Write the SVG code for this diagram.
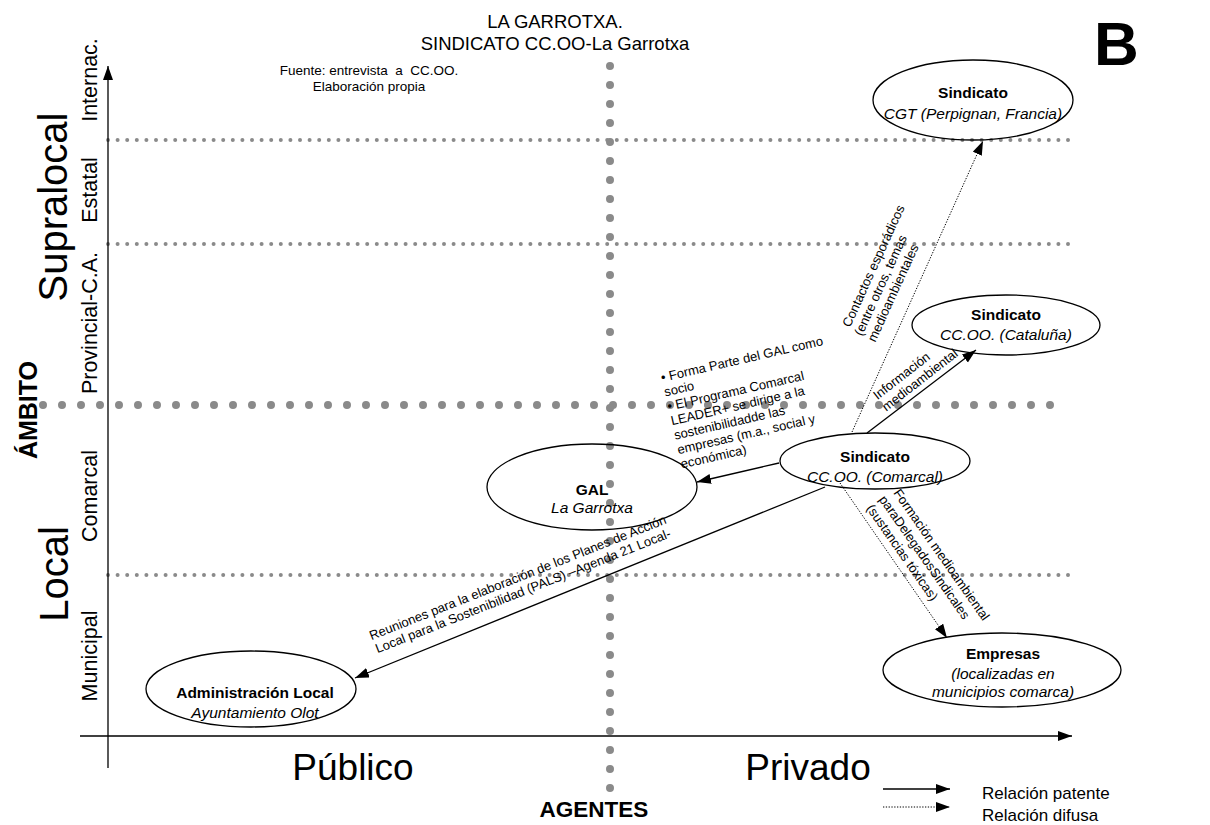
<svg xmlns="http://www.w3.org/2000/svg" width="1210" height="825" viewBox="0 0 1210 825">
<style>
text{font-family:"Liberation Sans",Arial,sans-serif;fill:#000}
.dotS{stroke:#8a8a8a;stroke-width:4;stroke-linecap:round;stroke-dasharray:0 9.6;fill:none}
.dotB{stroke:#8a8a8a;stroke-width:8;stroke-linecap:round;stroke-dasharray:0 19;fill:none}
.axis{stroke:#000;stroke-width:1.3;fill:none}
.node{fill:none;stroke:#000;stroke-width:1.3}
.nb{font-size:15.5px;font-weight:bold}
.ni{font-size:15.5px;font-style:italic}
.solid{stroke:#000;stroke-width:1.3;fill:none}
.dashed{stroke:#000;stroke-width:1;stroke-dasharray:1.3 1.5;fill:none}
.lab{font-size:13px}
.lvl{font-size:21.5px}
.big{font-size:40px}
</style>
<defs>
<marker id="ah" markerUnits="userSpaceOnUse" markerWidth="15" markerHeight="11" refX="14" refY="5" orient="auto"><path d="M0,0 L14,5 L0,10 z" fill="#000"/></marker>
</defs>

<g id="grid">
<line class="dotS" x1="108" y1="140" x2="1073" y2="140"/>
<line class="dotS" x1="108" y1="244" x2="1073" y2="244"/>
<line class="dotS" x1="108" y1="575" x2="1073" y2="575"/>
<line class="dotB" x1="43" y1="405" x2="1068" y2="405"/>
<line class="dotB" x1="610" y1="66" x2="610" y2="800"/>
</g>

<g id="axes">
<line class="axis" x1="108" y1="768" x2="108" y2="66" marker-end="url(#ah)"/>
<line class="axis" x1="80" y1="736" x2="1072" y2="736" marker-end="url(#ah)"/>
</g>

<g id="titles">
<text x="555" y="28" font-size="18.5" text-anchor="middle">LA GARROTXA.</text>
<text x="555" y="50" font-size="18.5" text-anchor="middle">SINDICATO CC.OO-La Garrotxa</text>
<text x="369" y="75" font-size="13.5" text-anchor="middle" xml:space="preserve">Fuente: entrevista  a  CC.OO.</text>
<text x="369" y="91" font-size="13.5" text-anchor="middle">Elaboración propia</text>
<text x="1094" y="65" font-size="62" font-weight="bold">B</text>
</g>

<g id="yaxis-labels">
<text class="big" transform="translate(67,207) rotate(-90)" text-anchor="middle">Supralocal</text>
<text class="big" transform="translate(68,574) rotate(-90)" text-anchor="middle">Local</text>
<text transform="translate(37,410) rotate(-90)" text-anchor="middle" font-size="25" font-weight="bold">ÁMBITO</text>
<text class="lvl" transform="translate(97,80) rotate(-90)" text-anchor="middle">Internac.</text>
<text class="lvl" transform="translate(97,190) rotate(-90)" text-anchor="middle">Estatal</text>
<text class="lvl" transform="translate(97,323) rotate(-90)" text-anchor="middle">Provincial-C.A.</text>
<text class="lvl" transform="translate(97,496) rotate(-90)" text-anchor="middle">Comarcal</text>
<text class="lvl" transform="translate(97,656) rotate(-90)" text-anchor="middle">Municipal</text>
</g>

<g id="xaxis-labels">
<text x="353" y="780" font-size="37" text-anchor="middle">Público</text>
<text x="808" y="780" font-size="37" text-anchor="middle">Privado</text>
<text x="594" y="817" font-size="22.5" font-weight="bold" text-anchor="middle">AGENTES</text>
</g>

<g id="legend">
<line class="solid" x1="883" y1="789" x2="950" y2="789" marker-end="url(#ah)"/>
<line class="dashed" x1="883" y1="807" x2="950" y2="807" marker-end="url(#ah)"/>
<text x="982" y="799" font-size="17">Relación patente</text>
<text x="982" y="821" font-size="17">Relación difusa</text>
</g>

<g id="connectors">
<line class="solid" x1="825" y1="487" x2="355" y2="678" marker-end="url(#ah)"/>
<line class="solid" x1="779" y1="463" x2="697" y2="482" marker-end="url(#ah)"/>
<line class="solid" x1="867" y1="433" x2="976" y2="350" marker-end="url(#ah)"/>
<line class="dashed" x1="852" y1="432" x2="983" y2="141" marker-end="url(#ah)"/>
<line class="dashed" x1="840" y1="483" x2="947" y2="638" marker-end="url(#ah)"/>
<g class="lab" transform="translate(530,608.6) rotate(-21.6)">
<text x="0" y="-29" text-anchor="middle">Reuniones para la elaboración de los Planes de Acción</text>
<text x="0" y="-14.5" text-anchor="middle">Local para la Sostenibilidad (PALS) –Agenda 21 Local-</text>
</g>
<g class="lab" transform="translate(662,382) rotate(-12.9)">
<text x="0" y="0">• Forma Parte del GAL como</text>
<text x="0" y="14.8">socio</text>
<text x="0" y="29.6">• El Programa Comarcal</text>
<text x="0" y="44.4">LEADER+ se dirige a la</text>
<text x="0" y="59.2">sostenibilidadde las</text>
<text x="0" y="74">empresas (m.a., social y</text>
<text x="0" y="88.8">económica)</text>
</g>
<g class="lab" transform="translate(921,391) rotate(-37.9)">
<text x="-40" y="-19.5">Información</text>
<text x="-40" y="-5">medioambiental</text>
</g>
<g class="lab" transform="translate(850,328) rotate(-65.5)">
<text x="0" y="0">Contactos esporádicos</text>
<text x="-3" y="14.5">(entre otros, temas</text>
<text x="-3" y="29">medioambientales</text>
</g>
<g class="lab" transform="translate(893,493) rotate(55)">
<text x="0" y="0">Formación medioambiental</text>
<text x="-3" y="15.5">paraDelegadosSindicales</text>
<text x="-3" y="31">(sustancias tóxicas)</text>
</g>
</g>

<g id="node-cgt">
<ellipse class="node" cx="973" cy="100" rx="100" ry="40"/>
<text class="nb" x="973" y="98" text-anchor="middle">Sindicato</text>
<text class="ni" x="973" y="119" text-anchor="middle">CGT (Perpignan, Francia)</text>
</g>
<g id="node-cataluna">
<ellipse class="node" cx="1006" cy="325" rx="94" ry="30"/>
<text class="nb" x="1006" y="320" text-anchor="middle">Sindicato</text>
<text class="ni" x="1006" y="340" text-anchor="middle">CC.OO. (Cataluña)</text>
</g>
<g id="node-comarcal">
<ellipse class="node" cx="875" cy="461" rx="95" ry="28"/>
<text class="nb" x="875" y="462" text-anchor="middle">Sindicato</text>
<text class="ni" x="875" y="482" text-anchor="middle">CC.OO. (Comarcal)</text>
</g>
<g id="node-gal">
<ellipse class="node" cx="592" cy="487" rx="105" ry="43"/>
<text class="nb" x="592" y="495" text-anchor="middle">GAL</text>
<text class="ni" x="592" y="513" text-anchor="middle">La Garrotxa</text>
</g>
<g id="node-admin">
<ellipse class="node" cx="251" cy="689" rx="105" ry="38"/>
<text class="nb" x="255" y="698" text-anchor="middle">Administración Local</text>
<text class="ni" x="255" y="718" text-anchor="middle">Ayuntamiento Olot</text>
</g>
<g id="node-empresas">
<ellipse class="node" cx="1002" cy="670" rx="119" ry="37"/>
<text class="nb" x="1003" y="659" text-anchor="middle">Empresas</text>
<text class="ni" x="1003" y="679" text-anchor="middle">(localizadas en</text>
<text class="ni" x="1003" y="697" text-anchor="middle">municipios comarca)</text>
</g>
</svg>
